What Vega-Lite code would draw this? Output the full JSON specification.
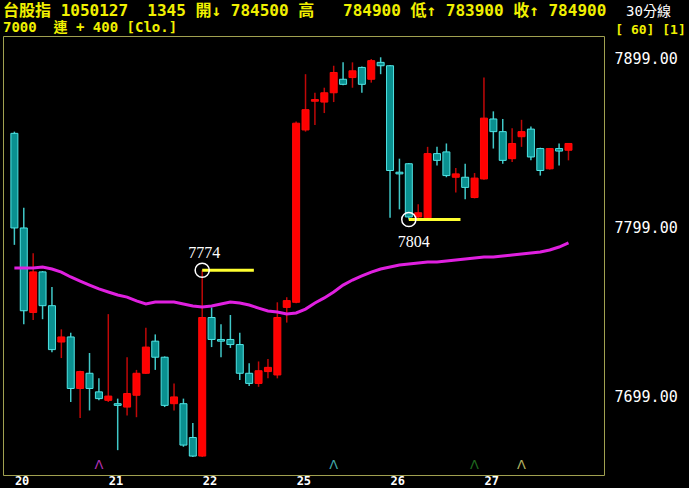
{
  "$schema": "https://vega.github.io/schema/vega-lite/v6.json",
  "width": 601,
  "height": 439,
  "autosize": {"type": "none"},
  "padding": {"left": 3, "top": 36, "right": 85, "bottom": 13},
  "background": "#000000",
  "title": {
    "text": "台股指 1050127\u00a0 1345 開↓ 784500 高\u00a0\u00a0 784900 低↑ 783900 收↑ 784900",
    "subtitle": "7000\u00a0 連 + 400 [Clo.]",
    "anchor": "start",
    "frame": "group",
    "color": "#f0f000",
    "font": "DejaVu Sans Mono, Noto Sans CJK TC",
    "fontSize": 16,
    "fontWeight": "bold",
    "subtitleColor": "#f0f000",
    "subtitleFont": "DejaVu Sans Mono, Noto Sans CJK TC",
    "subtitleFontSize": 14,
    "subtitleFontWeight": "bold",
    "subtitlePadding": 2,
    "offset": 2,
    "dy": 33
  },
  "datasets": {
    "candles": [
      {"i":0,"open":7855,"high":7856,"low":7789,"close":7799,"ma":7775.3},
      {"i":1,"open":7799,"high":7811,"low":7742,"close":7750,"ma":7775.3},
      {"i":2,"open":7749,"high":7784,"low":7744.5,"close":7773,"ma":7775.3},
      {"i":3,"open":7773,"high":7773.5,"low":7745,"close":7753,"ma":7775.9},
      {"i":4,"open":7753,"high":7764,"low":7725.5,"close":7727,"ma":7774.7},
      {"i":5,"open":7731.5,"high":7739,"low":7722,"close":7734.5,"ma":7772.9},
      {"i":6,"open":7734.5,"high":7737,"low":7696,"close":7704,"ma":7770.0},
      {"i":7,"open":7704,"high":7714.5,"low":7686.5,"close":7714,"ma":7767.6},
      {"i":8,"open":7713,"high":7725,"low":7691,"close":7704,"ma":7765.2},
      {"i":9,"open":7702,"high":7710,"low":7697,"close":7698,"ma":7762.9},
      {"i":10,"open":7697,"high":7748,"low":7696,"close":7699.5,"ma":7761.1},
      {"i":11,"open":7695,"high":7698,"low":7667.5,"close":7694,"ma":7759.3},
      {"i":12,"open":7693,"high":7722.5,"low":7688,"close":7701,"ma":7758.1},
      {"i":13,"open":7700,"high":7715,"low":7687,"close":7713,"ma":7755.8},
      {"i":14,"open":7713,"high":7740,"low":7712.5,"close":7728.5,"ma":7754.0},
      {"i":15,"open":7732,"high":7736,"low":7715,"close":7722.5,"ma":7755.2},
      {"i":16,"open":7722.5,"high":7723,"low":7693,"close":7694,"ma":7755.2},
      {"i":17,"open":7695,"high":7707,"low":7691,"close":7699,"ma":7755.2},
      {"i":18,"open":7695,"high":7698,"low":7669.5,"close":7670.5,"ma":7754.0},
      {"i":19,"open":7675,"high":7683.5,"low":7663.5,"close":7664,"ma":7752.8},
      {"i":20,"open":7664,"high":7774,"low":7663.5,"close":7746,"ma":7752.2},
      {"i":21,"open":7746,"high":7752,"low":7728.5,"close":7733,"ma":7752.8},
      {"i":22,"open":7733,"high":7742,"low":7722.5,"close":7732,"ma":7754.0},
      {"i":23,"open":7733,"high":7747.5,"low":7728,"close":7730,"ma":7755.2},
      {"i":24,"open":7730,"high":7737,"low":7709,"close":7713,"ma":7754.6},
      {"i":25,"open":7713,"high":7719,"low":7705.5,"close":7707,"ma":7753.4},
      {"i":26,"open":7707,"high":7720,"low":7705,"close":7714.5,"ma":7751.6},
      {"i":27,"open":7714,"high":7721.5,"low":7710,"close":7716.5,"ma":7749.9},
      {"i":28,"open":7712,"high":7755,"low":7710,"close":7746,"ma":7749.3},
      {"i":29,"open":7752,"high":7758,"low":7743,"close":7756,"ma":7748.1},
      {"i":30,"open":7755,"high":7862,"low":7754.5,"close":7861,"ma":7748.7},
      {"i":31,"open":7857,"high":7890,"low":7856,"close":7869,"ma":7751.0},
      {"i":32,"open":7874,"high":7879,"low":7860,"close":7875,"ma":7754.6},
      {"i":33,"open":7873.5,"high":7882,"low":7867,"close":7879,"ma":7757.6},
      {"i":34,"open":7879,"high":7895,"low":7873.5,"close":7891,"ma":7761.1},
      {"i":35,"open":7887,"high":7897,"low":7883.5,"close":7884,"ma":7765.2},
      {"i":36,"open":7888,"high":7897,"low":7882,"close":7892,"ma":7768.2},
      {"i":37,"open":7894,"high":7894.5,"low":7879,"close":7884,"ma":7770.6},
      {"i":38,"open":7887,"high":7899,"low":7885,"close":7898,"ma":7772.9},
      {"i":39,"open":7897,"high":7900,"low":7890,"close":7895,"ma":7774.7},
      {"i":40,"open":7895,"high":7895.5,"low":7805,"close":7833,"ma":7775.9},
      {"i":41,"open":7832,"high":7840,"low":7810,"close":7831,"ma":7777.1},
      {"i":42,"open":7837,"high":7837.5,"low":7804,"close":7805.5,"ma":7777.7},
      {"i":43,"open":7805.5,"high":7813,"low":7804.5,"close":7808,"ma":7778.3},
      {"i":44,"open":7805,"high":7847,"low":7804.5,"close":7843,"ma":7778.9},
      {"i":45,"open":7843,"high":7847,"low":7836,"close":7839,"ma":7778.9},
      {"i":46,"open":7844,"high":7849,"low":7829,"close":7830,"ma":7779.4},
      {"i":47,"open":7829,"high":7834.5,"low":7820,"close":7831,"ma":7780.0},
      {"i":48,"open":7829,"high":7837,"low":7816,"close":7823,"ma":7780.6},
      {"i":49,"open":7817,"high":7831.5,"low":7816.5,"close":7828.5,"ma":7781.2},
      {"i":50,"open":7828,"high":7888,"low":7827.5,"close":7864,"ma":7781.8},
      {"i":51,"open":7863.5,"high":7868,"low":7846,"close":7856,"ma":7781.8},
      {"i":52,"open":7856,"high":7863.5,"low":7837,"close":7839,"ma":7782.4},
      {"i":53,"open":7840,"high":7858,"low":7838,"close":7849,"ma":7783.0},
      {"i":54,"open":7853,"high":7863,"low":7847,"close":7856,"ma":7783.6},
      {"i":55,"open":7857.5,"high":7859,"low":7839,"close":7841,"ma":7784.2},
      {"i":56,"open":7846,"high":7846.5,"low":7830,"close":7833,"ma":7784.8},
      {"i":57,"open":7834,"high":7846,"low":7833.5,"close":7846,"ma":7786.0},
      {"i":58,"open":7846,"high":7849,"low":7836,"close":7844.5,"ma":7787.7},
      {"i":59,"open":7845,"high":7849,"low":7839,"close":7849,"ma":7790.1}
    ],
    "marks": [
      {"i":20,"price":7774,"end":25.5,"label":"7774","pos":"above"},
      {"i":42,"price":7804,"end":47.5,"label":"7804","pos":"below"}
    ],
    "signals": [
      {"i":9,"kind":"a"},
      {"i":34,"kind":"b"},
      {"i":49,"kind":"c"},
      {"i":54,"kind":"d"}
    ]
  },
  "data": {"name": "candles"},
  "encoding": {
    "x": {
      "field": "i",
      "type": "quantitative",
      "scale": {"domain": [-0.68, 62.25], "nice": false, "zero": false},
      "axis": {
        "values": [0, 10, 20, 30, 40, 50],
        "labelExpr": "['20','21','22','25','26','27'][round(datum.value/10)]",
        "labelAlign": "left",
        "labelBaseline": "top",
        "labelPadding": 0,
        "labelColor": "#ffffff",
        "labelFont": "DejaVu Sans Mono",
        "labelFontWeight": "bold",
        "labelFontSize": 12,
        "title": "[ 60] [1]",
        "titleColor": "#f0f000",
        "titleFont": "DejaVu Sans Mono",
        "titleFontSize": 13,
        "titleFontWeight": "bold",
        "titleAngle": 0,
        "titleAlign": "center",
        "titleBaseline": "middle",
        "titleX": 647,
        "titleY": -446
      }
    }
  },
  "layer": [
    {
      "mark": {"type": "rule", "strokeWidth": 1.5},
      "encoding": {
        "y": {
          "field": "low",
          "type": "quantitative",
          "scale": {"domain": [7652.8, 7912.6], "nice": false, "zero": false},
          "axis": {
            "orient": "right",
            "values": [7699, 7799, 7899],
            "format": ".2f",
            "labelColor": "#ffffff",
            "labelFont": "DejaVu Sans Mono",
            "labelFontSize": 15,
            "labelPadding": 10,
            "labelBaseline": "middle",
            "title": "30分線",
            "titleColor": "#ffffff",
            "titleFont": "DejaVu Sans Mono, Noto Sans CJK TC",
            "titleFontSize": 14,
            "titleFontWeight": "normal",
            "titleAngle": 0,
            "titleAlign": "center",
            "titleBaseline": "middle",
            "titleX": 44,
            "titleY": -25
          }
        },
        "y2": {"field": "high"},
        "color": {
          "condition": {"test": "datum.close >= datum.open", "value": "#c00808"},
          "value": "#40c8c8"
        }
      }
    },
    {
      "mark": {"type": "bar", "size": 7, "strokeWidth": 1},
      "encoding": {
        "y": {
          "field": "open",
          "type": "quantitative",
          "scale": {"domain": [7652.8, 7912.6], "nice": false, "zero": false},
          "axis": {
            "orient": "right",
            "values": [7699, 7799, 7899],
            "format": ".2f",
            "labelColor": "#ffffff",
            "labelFont": "DejaVu Sans Mono",
            "labelFontSize": 15,
            "labelPadding": 10,
            "labelBaseline": "middle",
            "title": "30分線",
            "titleColor": "#ffffff",
            "titleFont": "DejaVu Sans Mono, Noto Sans CJK TC",
            "titleFontSize": 14,
            "titleFontWeight": "normal",
            "titleAngle": 0,
            "titleAlign": "center",
            "titleBaseline": "middle",
            "titleX": 44,
            "titleY": -25
          }
        },
        "y2": {"field": "close"},
        "fill": {
          "condition": {"test": "datum.close >= datum.open", "value": "#ff0000"},
          "value": "#0a9090"
        },
        "stroke": {
          "condition": {"test": "datum.close >= datum.open", "value": "#ff0a0a"},
          "value": "#50e4e4"
        }
      }
    },
    {
      "mark": {"type": "line", "color": "#e020e0", "strokeWidth": 3},
      "encoding": {
        "y": {
          "field": "ma",
          "type": "quantitative",
          "scale": {"domain": [7652.8, 7912.6], "nice": false, "zero": false},
          "axis": {
            "orient": "right",
            "values": [7699, 7799, 7899],
            "format": ".2f",
            "labelColor": "#ffffff",
            "labelFont": "DejaVu Sans Mono",
            "labelFontSize": 15,
            "labelPadding": 10,
            "labelBaseline": "middle",
            "title": "30分線",
            "titleColor": "#ffffff",
            "titleFont": "DejaVu Sans Mono, Noto Sans CJK TC",
            "titleFontSize": 14,
            "titleFontWeight": "normal",
            "titleAngle": 0,
            "titleAlign": "center",
            "titleBaseline": "middle",
            "titleX": 44,
            "titleY": -25
          }
        }
      }
    },
    {
      "data": {"name": "marks"},
      "mark": {"type": "rule", "color": "#ffff30", "strokeWidth": 3},
      "encoding": {
        "x2": {"field": "end"},
        "y": {
          "field": "price",
          "type": "quantitative",
          "scale": {"domain": [7652.8, 7912.6], "nice": false, "zero": false},
          "axis": {
            "orient": "right",
            "values": [7699, 7799, 7899],
            "format": ".2f",
            "labelColor": "#ffffff",
            "labelFont": "DejaVu Sans Mono",
            "labelFontSize": 15,
            "labelPadding": 10,
            "labelBaseline": "middle",
            "title": "30分線",
            "titleColor": "#ffffff",
            "titleFont": "DejaVu Sans Mono, Noto Sans CJK TC",
            "titleFontSize": 14,
            "titleFontWeight": "normal",
            "titleAngle": 0,
            "titleAlign": "center",
            "titleBaseline": "middle",
            "titleX": 44,
            "titleY": -25
          }
        }
      }
    },
    {
      "data": {"name": "marks"},
      "mark": {"type": "point", "shape": "circle", "filled": false, "color": "#ffffff", "size": 200, "strokeWidth": 1.5, "opacity": 1},
      "encoding": {
        "y": {
          "field": "price",
          "type": "quantitative",
          "scale": {"domain": [7652.8, 7912.6], "nice": false, "zero": false},
          "axis": {
            "orient": "right",
            "values": [7699, 7799, 7899],
            "format": ".2f",
            "labelColor": "#ffffff",
            "labelFont": "DejaVu Sans Mono",
            "labelFontSize": 15,
            "labelPadding": 10,
            "labelBaseline": "middle",
            "title": "30分線",
            "titleColor": "#ffffff",
            "titleFont": "DejaVu Sans Mono, Noto Sans CJK TC",
            "titleFontSize": 14,
            "titleFontWeight": "normal",
            "titleAngle": 0,
            "titleAlign": "center",
            "titleBaseline": "middle",
            "titleX": 44,
            "titleY": -25
          }
        }
      }
    },
    {
      "data": {"name": "marks"},
      "transform": [{"filter": "datum.pos == 'above'"}],
      "mark": {"type": "text", "color": "#ffffff", "font": "Liberation Serif", "fontSize": 16, "baseline": "alphabetic", "align": "center", "dy": -12, "dx": 2},
      "encoding": {
        "y": {
          "field": "price",
          "type": "quantitative",
          "scale": {"domain": [7652.8, 7912.6], "nice": false, "zero": false},
          "axis": {
            "orient": "right",
            "values": [7699, 7799, 7899],
            "format": ".2f",
            "labelColor": "#ffffff",
            "labelFont": "DejaVu Sans Mono",
            "labelFontSize": 15,
            "labelPadding": 10,
            "labelBaseline": "middle",
            "title": "30分線",
            "titleColor": "#ffffff",
            "titleFont": "DejaVu Sans Mono, Noto Sans CJK TC",
            "titleFontSize": 14,
            "titleFontWeight": "normal",
            "titleAngle": 0,
            "titleAlign": "center",
            "titleBaseline": "middle",
            "titleX": 44,
            "titleY": -25
          }
        },
        "text": {"field": "label"}
      }
    },
    {
      "data": {"name": "marks"},
      "transform": [{"filter": "datum.pos == 'below'"}],
      "mark": {"type": "text", "color": "#ffffff", "font": "Liberation Serif", "fontSize": 16, "baseline": "top", "align": "center", "dy": 14, "dx": 5},
      "encoding": {
        "y": {
          "field": "price",
          "type": "quantitative",
          "scale": {"domain": [7652.8, 7912.6], "nice": false, "zero": false},
          "axis": {
            "orient": "right",
            "values": [7699, 7799, 7899],
            "format": ".2f",
            "labelColor": "#ffffff",
            "labelFont": "DejaVu Sans Mono",
            "labelFontSize": 15,
            "labelPadding": 10,
            "labelBaseline": "middle",
            "title": "30分線",
            "titleColor": "#ffffff",
            "titleFont": "DejaVu Sans Mono, Noto Sans CJK TC",
            "titleFontSize": 14,
            "titleFontWeight": "normal",
            "titleAngle": 0,
            "titleAlign": "center",
            "titleBaseline": "middle",
            "titleX": 44,
            "titleY": -25
          }
        },
        "text": {"field": "label"}
      }
    },
    {
      "data": {"name": "signals"},
      "mark": {"type": "text", "text": "Λ", "font": "DejaVu Sans", "fontSize": 13, "baseline": "middle", "align": "center"},
      "encoding": {
        "y": {
          "datum": 7658.8,
          "type": "quantitative",
          "scale": {"domain": [7652.8, 7912.6], "nice": false, "zero": false},
          "axis": {
            "orient": "right",
            "values": [7699, 7799, 7899],
            "format": ".2f",
            "labelColor": "#ffffff",
            "labelFont": "DejaVu Sans Mono",
            "labelFontSize": 15,
            "labelPadding": 10,
            "labelBaseline": "middle",
            "title": "30分線",
            "titleColor": "#ffffff",
            "titleFont": "DejaVu Sans Mono, Noto Sans CJK TC",
            "titleFontSize": 14,
            "titleFontWeight": "normal",
            "titleAngle": 0,
            "titleAlign": "center",
            "titleBaseline": "middle",
            "titleX": 44,
            "titleY": -25
          }
        },
        "color": {
          "field": "kind",
          "type": "nominal",
          "scale": {"domain": ["a", "b", "c", "d"], "range": ["#b030b0", "#40a8a8", "#1f6a1f", "#b0b060"]},
          "legend": null
        }
      }
    }
  ],
  "config": {
    "view": {"stroke": "#a0a050", "strokeWidth": 1},
    "axis": {"grid": false, "ticks": false, "domain": false}
  }
}
